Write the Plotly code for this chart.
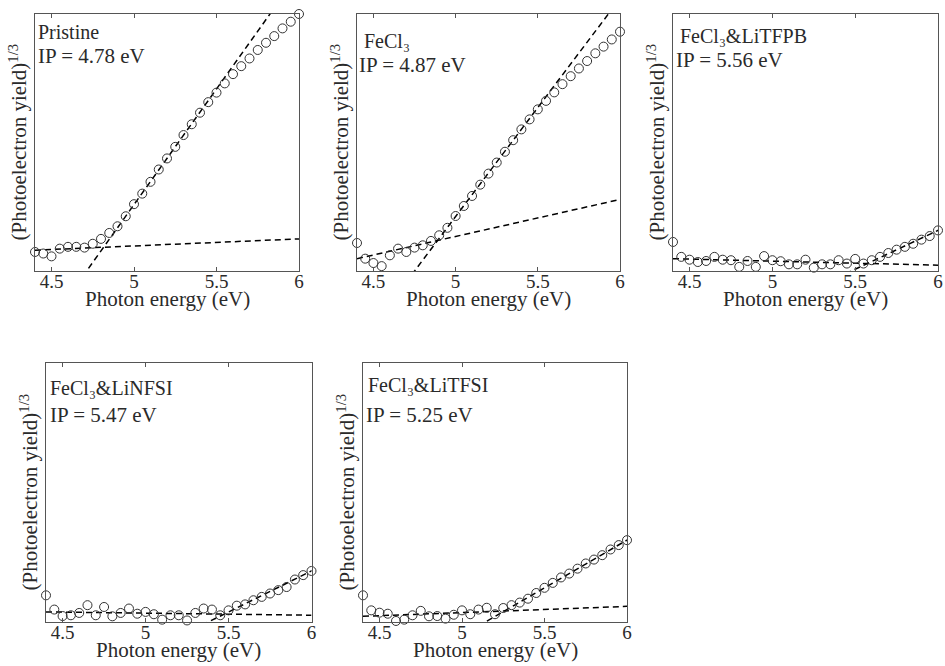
import plotly.graph_objects as go

W, H = 945, 666

energy = [4.40, 4.45, 4.50, 4.55, 4.60, 4.65, 4.70, 4.75, 4.80, 4.85, 4.90,
          4.95, 5.00, 5.05, 5.10, 5.15, 5.20, 5.25, 5.30, 5.35, 5.40, 5.45,
          5.50, 5.55, 5.60, 5.65, 5.70, 5.75, 5.80, 5.85, 5.90, 5.95, 6.00]

pristine = [0.074, 0.068, 0.057, 0.087, 0.094, 0.094, 0.091, 0.106, 0.125, 0.148, 0.174,
            0.213, 0.260, 0.301, 0.347, 0.395, 0.438, 0.483, 0.529, 0.571, 0.616, 0.657,
            0.694, 0.730, 0.766, 0.797, 0.827, 0.860, 0.888, 0.914, 0.944, 0.970, 1.000]
fecl3 = [0.109, 0.048, 0.031, 0.019, 0.061, 0.087, 0.074, 0.091, 0.100, 0.117, 0.139,
         0.168, 0.214, 0.253, 0.292, 0.336, 0.379, 0.422, 0.464, 0.509, 0.551, 0.590,
         0.629, 0.662, 0.695, 0.727, 0.758, 0.788, 0.817, 0.847, 0.873, 0.901, 0.931]
litfpb = [0.113, 0.055, 0.044, 0.035, 0.039, 0.055, 0.044, 0.042, 0.016, 0.039, 0.016,
          0.058, 0.042, 0.038, 0.026, 0.026, 0.044, 0.013, 0.026, 0.026, 0.042, 0.029,
          0.047, 0.029, 0.042, 0.055, 0.070, 0.083, 0.094, 0.106, 0.122, 0.136, 0.158]
linfsi = [0.103, 0.048, 0.023, 0.026, 0.035, 0.065, 0.026, 0.058, 0.022, 0.035, 0.052,
          0.032, 0.039, 0.030, 0.009, 0.026, 0.026, 0.006, 0.035, 0.052, 0.048, 0.026,
          0.045, 0.063, 0.068, 0.084, 0.097, 0.110, 0.123, 0.135, 0.164, 0.181, 0.197]
litfsi = [0.103, 0.045, 0.036, 0.032, 0.004, 0.009, 0.026, 0.043, 0.022, 0.023, 0.013,
          0.028, 0.045, 0.030, 0.048, 0.055, 0.030, 0.054, 0.065, 0.075, 0.090, 0.112,
          0.132, 0.151, 0.172, 0.187, 0.206, 0.226, 0.241, 0.258, 0.280, 0.297, 0.316]

sample_names = ["Pristine", "FeCl₃", "FeCl₃&LiTFPB", "FeCl₃&LiNFSI", "FeCl₃&LiTFSI"]
ip_values = [4.78, 4.87, 5.56, 5.47, 5.25]

# linear fits: baseline (y at 4.4, slope) and onset line (x-intercept, slope)
base_y0 = [0.081, 0.048, 0.048, 0.039, 0.022]
base_slope = [0.0275, 0.144, -0.016, -0.008, 0.024]
onset_x0 = [4.713, 4.750, 5.477, 5.378, 5.141]
onset_slope = [0.90, 0.848, 0.302, 0.317, 0.368]

x_ticks = [4.5, 5, 5.5, 6]
x_tick_text = ["4.5", "5", "5.5", "6"]

series = [pristine, fecl3, litfpb, linfsi, litfsi]

# panel boxes in pixels: left, right, top, bottom
boxes = [(35, 299, 14, 271), (357, 620, 14, 271), (673, 938, 14, 271),
         (46, 311.5, 363, 622), (363, 627, 363, 622)]
# label centres (name x, name y, IP x, IP y)
label_pos = [(36, 32, 36, 56), (362, 41, 357, 65), (678, 36, 674, 60),
             (48, 388, 48, 415), (366, 385, 364, 415)]

FONT = "Liberation Serif, Times New Roman, serif"
INK = "#2a2a2a"
FRAME = "#555555"

fig = go.Figure()
annotations = []
layout = {}

def px_x(p):
    return p / W

def px_y(p):
    return 1 - p / H

xr = [energy[0], energy[-1]]
for i, (ys, box) in enumerate(zip(series, boxes)):
    n = i + 1
    xa = "x" if n == 1 else f"x{n}"
    ya = "y" if n == 1 else f"y{n}"
    l, r, t, b = box
    # fits
    bx = [xr[0], xr[1]]
    by = [base_y0[i], base_y0[i] + base_slope[i] * (xr[1] - xr[0])]
    ox = [onset_x0[i] - 0.2, xr[1] + 0.2]
    oy = [(v - onset_x0[i]) * onset_slope[i] for v in ox]
    for fx, fy in ((bx, by), (ox, oy)):
        fig.add_trace(go.Scatter(x=fx, y=fy, mode="lines", xaxis=xa, yaxis=ya,
                                 line=dict(color="black", width=1.5, dash="6px,4px"),
                                 showlegend=False, hoverinfo="skip"))
    fig.add_trace(go.Scatter(x=energy, y=ys, mode="markers", xaxis=xa, yaxis=ya,
                             marker=dict(symbol="circle-open", size=9,
                                         line=dict(color="#333333", width=1), color="#333333"),
                             cliponaxis=False, showlegend=False))
    kx = "xaxis" if n == 1 else f"xaxis{n}"
    ky = "yaxis" if n == 1 else f"yaxis{n}"
    layout[kx] = dict(domain=[px_x(l), px_x(r)], range=xr, anchor=ya, automargin=False,
                      tickvals=x_ticks, ticktext=x_tick_text, ticks="inside", ticklen=4,
                      ticklabelstandoff=-7,
                      tickcolor=FRAME, showline=True, linecolor=FRAME, linewidth=1,
                      mirror="ticks", showgrid=False, zeroline=False,
                      tickfont=dict(family=FONT, size=19, color=INK))
    layout[ky] = dict(domain=[px_y(b), px_y(t)], range=[0, 1], anchor=xa, automargin=False,
                      showticklabels=False, ticks="", showline=True, linecolor=FRAME,
                      linewidth=1, mirror=True, showgrid=False, zeroline=False)
    # axis titles
    annotations.append(dict(x=px_x(l - 17), y=px_y((t + b) / 2), xref="paper", yref="paper",
                            text="(Photoelectron yield)<sup>1/3</sup>", textangle=-90,
                            showarrow=False, xanchor="center", yanchor="middle",
                            font=dict(family=FONT, size=21, color=INK)))
    annotations.append(dict(x=px_x((l + r) / 2), y=px_y(b + 28), xref="paper", yref="paper",
                            text="Photon energy (eV)", showarrow=False,
                            xanchor="center", yanchor="middle", borderpad=0,
                            font=dict(family=FONT, size=21, color=INK)))
    nx, ny, ix, iy = label_pos[i]
    annotations.append(dict(x=px_x(nx), y=px_y(ny), xref="paper", yref="paper",
                            text=sample_names[i], showarrow=False, xanchor="left",
                            yanchor="middle", font=dict(family=FONT, size=20, color=INK)))
    annotations.append(dict(x=px_x(ix), y=px_y(iy), xref="paper", yref="paper",
                            text=f"IP = {ip_values[i]:.2f} eV", showarrow=False,
                            xanchor="left", yanchor="middle",
                            font=dict(family=FONT, size=21, color=INK)))

fig.update_layout(width=W, height=H, margin=dict(l=0, r=0, t=0, b=0),
                  paper_bgcolor="white", plot_bgcolor="white",
                  font=dict(family=FONT, color=INK),
                  annotations=annotations, **layout)

fig.write_html("out.html", config={"displayModeBar": False},
               post_script="document.body.style.margin='0';document.body.style.overflow='hidden';")
